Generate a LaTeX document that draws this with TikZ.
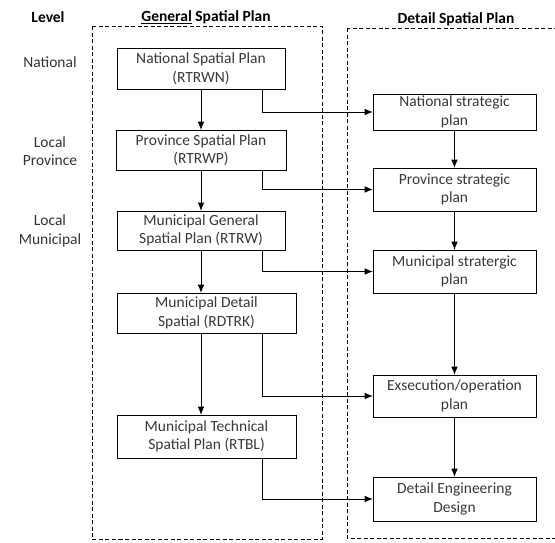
\documentclass[tikz,border=0pt]{standalone}
\usepackage{fontspec}
\setmainfont{Carlito}
\usetikzlibrary{arrows.meta}

\begin{document}
\begin{tikzpicture}[%
    x = 1pt, y = -1pt,
    >= { Latex[length=8pt, width=6.5pt] },
    semithick,
    font = \fontsize{15.5}{18.5}\selectfont,
    plan/.style = {%
      draw,
      rectangle,
      align = center,
      inner sep = 2pt,
      text = black!78 },
    level/.style = {align = center, text = black!80},
    head/.style = {font = \fontsize{15.5}{18.5}\selectfont\bfseries},
    frame/.style = {draw, dash pattern = on 4pt off 2.5pt}
  ]

\useasboundingbox (0,0) rectangle (555,542);

% the two dashed columns
\draw[frame] (92,26) rectangle (322,539);
\draw[frame] (347,28) rectangle (560,538);

\node[head] (hlevel) at (48,17) {Level};
\node[head] (hgeneral) at (206,17) {\underline{General} Spatial Plan};
\node[head] (hdetail) at (456,19) {Detail Spatial Plan};

\node[level] (lnat) at (50,62) {National};
\node[level] (lprov) at (50,151) {Local\\Province};
\node[level] (lmun) at (50,231) {Local\\Municipal};

% general spatial plan
\node[plan, minimum width=168pt, minimum height=41pt] (rtrwn) at (201,68.5) {National Spatial Plan\\(RTRWN)};
\node[plan, minimum width=170pt, minimum height=40pt] (rtrwp) at (201,150) {Province Spatial Plan\\(RTRWP)};
\node[plan, minimum width=168pt, minimum height=39pt] (rtrw) at (201,230.5) {Municipal General\\Spatial Plan (RTRW)};
\node[plan, minimum width=179pt, minimum height=40pt] (rdtrk) at (206.5,313) {Municipal Detail\\Spatial (RDTRK)};
\node[plan, minimum width=179pt, minimum height=43pt] (rtbl) at (206.5,436.5) {Municipal Technical\\Spatial Plan (RTBL)};

% detail spatial plan
\node[plan, minimum width=163pt, minimum height=35pt] (nsp) at (454.5,112) {National strategic\\plan};
\node[plan, minimum width=163pt, minimum height=43pt] (psp) at (454.5,189.5) {Province strategic\\plan};
\node[plan, minimum width=163pt, minimum height=43pt] (msp) at (454.5,271.5) {Municipal stratergic\\plan};
\node[plan, minimum width=163pt, minimum height=42pt] (exec) at (454.5,396) {Exsecution/operation\\plan};
\node[plan, minimum width=163pt, minimum height=44pt] (ded) at (454.5,499) {Detail Engineering\\Design};

\coordinate (bend) at (262,0);

\draw[->] (rtrwn) -- (rtrwp);
\draw[->] (rtrwp) -- (rtrw);
\draw[->] (rtrw.south -| rtrwn) -- (rdtrk.north -| rtrwn);
\draw[->] (rdtrk.south -| rtrwn) -- (rtbl.north -| rtrwn);

\draw[->] (nsp) -- (psp);
\draw[->] (psp) -- (msp);
\draw[->] (msp) -- (exec);
\draw[->] (exec) -- (ded);

\draw[->] (rtrwn.south -| bend) |- (nsp.west);
\draw[->] (rtrwp.south -| bend) |- (psp.west);
\draw[->] (rtrw.south -| bend) |- (msp.west);
\draw[->] (rdtrk.south -| bend) |- (exec.west);
\draw[->] (rtbl.south -| bend) |- (ded.west);

\end{tikzpicture}
\end{document}
